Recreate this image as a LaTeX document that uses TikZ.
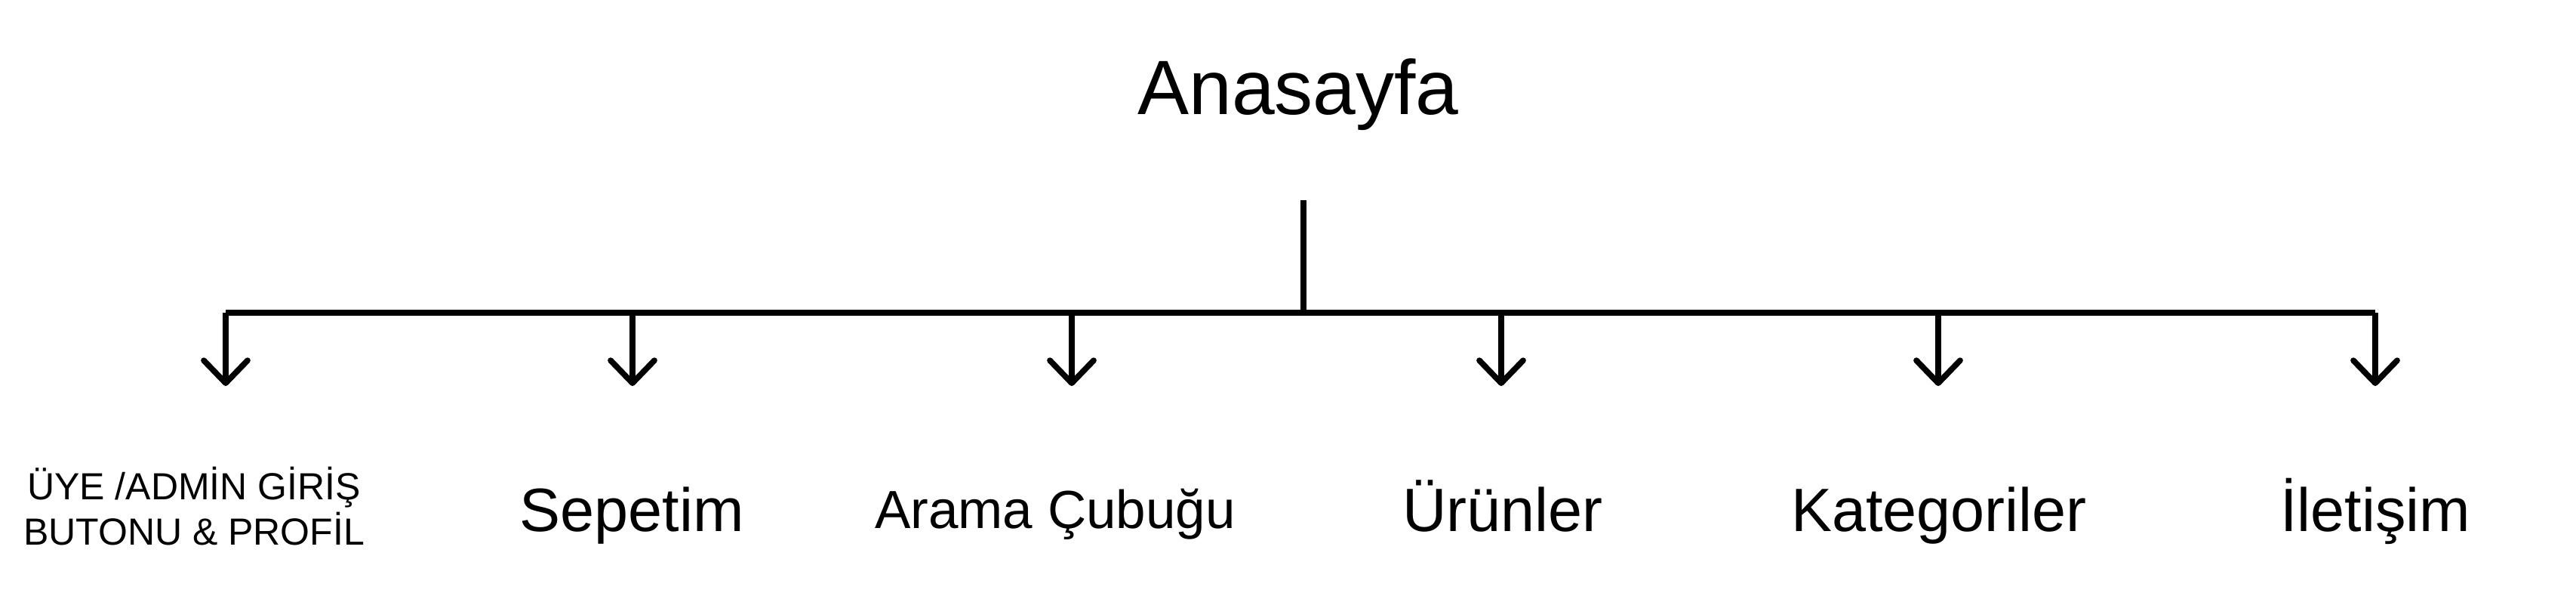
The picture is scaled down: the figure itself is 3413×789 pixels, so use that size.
\documentclass[tikz,border=0pt]{standalone}
\usepackage{fontspec}
\setmainfont{Liberation Sans}
\usetikzlibrary{arrows.meta}
\tikzset{
  lbl/.style={anchor=base, inner sep=0pt, font=\fontsize{81}{97}\selectfont},
  wire/.style={line width=7.7pt, line cap=butt},
  down/.style={line width=7.7pt, -{Straight Barb[length=30pt,width=58pt,round]}},
}
\begin{document}
\begin{tikzpicture}[x=1pt,y=-1pt]
\useasboundingbox (0,0) rectangle (3413,789);
\node[lbl, font=\fontsize{102}{120}\selectfont] (ana) at (1720,152) {Anasayfa};
\node[lbl, font=\fontsize{50}{60}\selectfont, align=center] (uye) at (257,721) {ÜYE /ADMİN GİRİŞ\\BUTONU \& PROFİL};
\node[lbl] (sep) at (837,703) {Sepetim};
\node[lbl, font=\fontsize{71}{85}\selectfont] (ara) at (1398,699) {Arama Çubuğu};
\node[lbl] (urun) at (1991,703) {Ürünler};
\node[lbl] (kat) at (2569,703) {Kategoriler};
\node[lbl] (ilet) at (3147,703) {İletişim};
% stem and bus
\coordinate (stemtop) at (1727,265);
\coordinate (stembot) at (1727,414);
\coordinate (b1) at (299,414);
\coordinate (b2) at (838,414);
\coordinate (b3) at (1420,414);
\coordinate (b4) at (1989,414);
\coordinate (b5) at (2568,414);
\coordinate (b6) at (3147,414);
\coordinate (t1) at (299,511);
\coordinate (t2) at (838,511);
\coordinate (t3) at (1420,511);
\coordinate (t4) at (1989,511);
\coordinate (t5) at (2568,511);
\coordinate (t6) at (3147,511);
\draw[wire] (stemtop) -- (stembot);
\draw[wire] (b1) -- (b6);
\foreach \i in {1,...,6} { \draw[down] (b\i) -- (t\i); }
\end{tikzpicture}
\end{document}
